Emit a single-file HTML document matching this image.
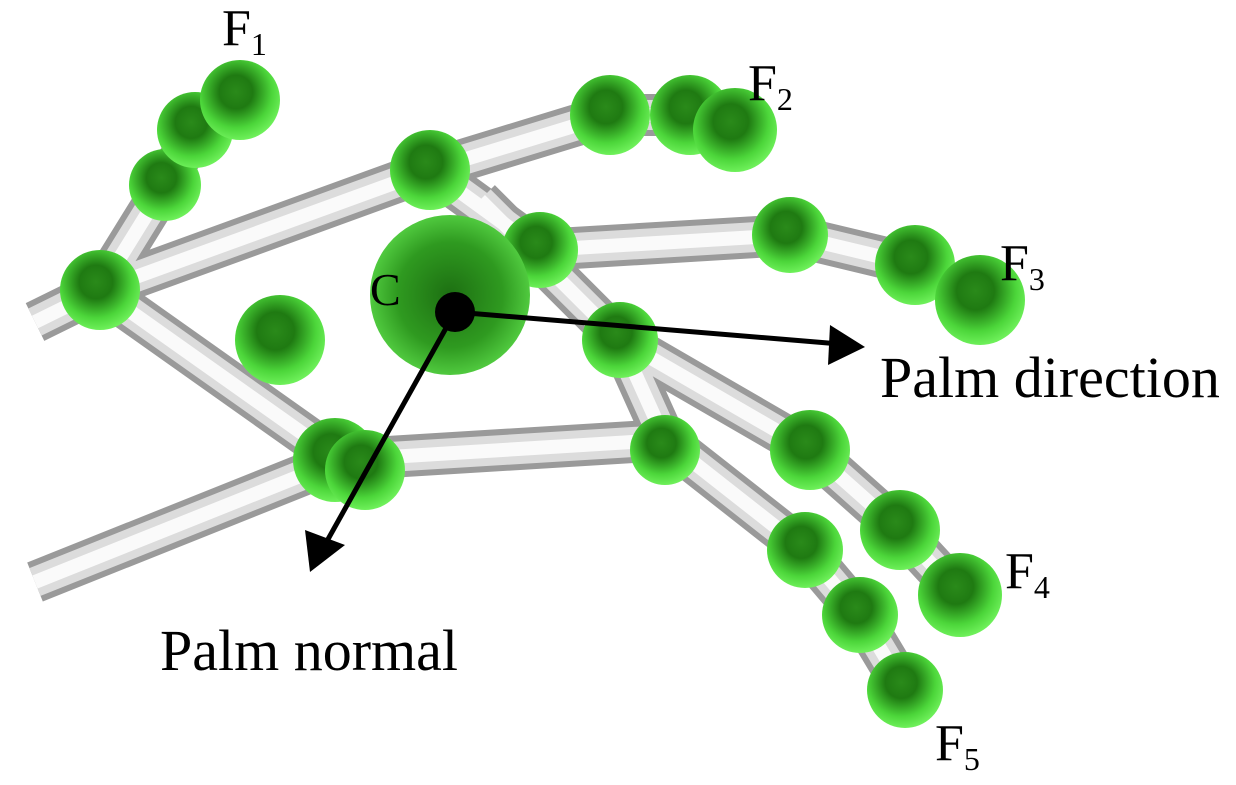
<!DOCTYPE html>
<html><head><meta charset="utf-8"><style>
html,body{margin:0;padding:0;background:#fff;}
svg{display:block;}
text{font-family:"Liberation Serif",serif;fill:#000;}
</style></head><body>
<svg width="1236" height="785" viewBox="0 0 1236 785" xmlns="http://www.w3.org/2000/svg">
<defs>
<radialGradient id="g" cx="45%" cy="40%" r="60%">
<stop offset="0" stop-color="#2a8a1a"/>
<stop offset="0.35" stop-color="#1f7a12"/>
<stop offset="0.75" stop-color="#4cd63a"/>
<stop offset="1" stop-color="#6ef05a"/>
</radialGradient>
<radialGradient id="gb" cx="50%" cy="50%" r="55%">
<stop offset="0" stop-color="#1d6f12"/>
<stop offset="0.6" stop-color="#2f9a20"/>
<stop offset="1" stop-color="#5ad848"/>
</radialGradient>
</defs>
<g fill="none" stroke-linecap="butt" stroke-linejoin="round">
<g stroke="#9a9a9a" stroke-width="42">
<polyline points="35,322 100,290 165,185 195,130 240,100"/>
<polyline points="100,290 430,170 610,115 690,115 735,130"/>
<polyline points="430,170 540,250 790,235 915,265 980,300"/>
<polyline points="100,290 340,460 665,440 805,550 860,615 905,690"/>
<polyline points="35,582 340,460"/>
<polyline points="480,200 620,340 810,450 900,530 960,595"/>
<polyline points="620,340 665,440"/>
</g>
<g stroke="#dcdcdc" stroke-width="30">
<polyline points="35,322 100,290 165,185 195,130 240,100"/>
<polyline points="100,290 430,170 610,115 690,115 735,130"/>
<polyline points="430,170 540,250 790,235 915,265 980,300"/>
<polyline points="100,290 340,460 665,440 805,550 860,615 905,690"/>
<polyline points="35,582 340,460"/>
<polyline points="480,200 620,340 810,450 900,530 960,595"/>
<polyline points="620,340 665,440"/>
</g>
<g stroke="#fafafa" stroke-width="14">
<polyline points="35,322 100,290 165,185 195,130 240,100"/>
<polyline points="100,290 430,170 610,115 690,115 735,130"/>
<polyline points="430,170 540,250 790,235 915,265 980,300"/>
<polyline points="100,290 340,460 665,440 805,550 860,615 905,690"/>
<polyline points="35,582 340,460"/>
<polyline points="480,200 620,340 810,450 900,530 960,595"/>
<polyline points="620,340 665,440"/>
</g>
</g>
<g fill="url(#g)">
<circle cx="100" cy="290" r="40"/>
<circle cx="165" cy="185" r="36"/>
<circle cx="195" cy="130" r="38"/>
<circle cx="240" cy="100" r="40"/>
<circle cx="430" cy="170" r="40"/>
<circle cx="610" cy="115" r="40"/>
<circle cx="690" cy="115" r="40"/>
<circle cx="735" cy="130" r="42"/>
<circle cx="540" cy="250" r="38"/>
<circle cx="790" cy="235" r="38"/>
<circle cx="915" cy="265" r="40"/>
<circle cx="980" cy="300" r="45"/>
<circle cx="280" cy="340" r="45"/>
<circle cx="335" cy="460" r="42"/>
<circle cx="365" cy="470" r="40"/>
<circle cx="620" cy="340" r="38"/>
<circle cx="810" cy="450" r="40"/>
<circle cx="900" cy="530" r="40"/>
<circle cx="960" cy="595" r="42"/>
<circle cx="665" cy="450" r="35"/>
<circle cx="805" cy="550" r="38"/>
<circle cx="860" cy="615" r="38"/>
<circle cx="905" cy="690" r="38"/>
</g>
<circle cx="450" cy="295" r="80" fill="url(#gb)"/>
<g stroke="#000" stroke-width="5" fill="none">
<line x1="455" y1="312" x2="840" y2="344"/>
<line x1="455" y1="312" x2="322" y2="550"/>
</g>
<path d="M830,325 L865,347 L828,365 z" fill="#000"/>
<path d="M305,530 L310,572 L345,545 z" fill="#000"/>
<circle cx="455" cy="312" r="20" fill="#000"/>
<text x="370" y="305" font-size="46">C</text>
<text x="880" y="397" font-size="58">Palm direction</text>
<text x="160" y="670" font-size="58">Palm normal</text>
<text x="222" y="45" font-size="52">F<tspan font-size="32" dy="10">1</tspan></text>
<text x="748" y="100" font-size="52">F<tspan font-size="32" dy="10">2</tspan></text>
<text x="1000" y="280" font-size="52">F<tspan font-size="32" dy="10">3</tspan></text>
<text x="1005" y="588" font-size="52">F<tspan font-size="32" dy="10">4</tspan></text>
<text x="935" y="760" font-size="52">F<tspan font-size="32" dy="10">5</tspan></text>
</svg>
</body></html>
